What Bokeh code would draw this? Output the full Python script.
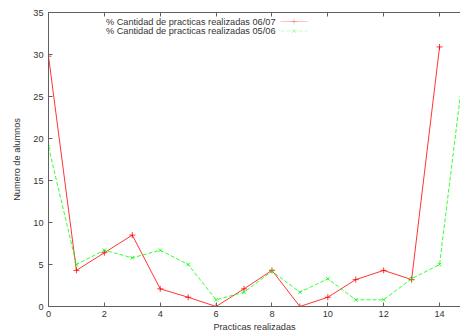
from bokeh.plotting import figure
from bokeh.models import LinearAxis, Label, PolyAnnotation, Range1d, FixedTicker
from bokeh.embed import file_html
from bokeh.resources import INLINE

practicas = list(range(16))
serie_0607 = [29.8, 4.3, 6.4, 8.5, 2.1, 1.1, 0.0, 2.1, 4.3, 0.0, 1.1, 3.2, 4.3, 3.2, 30.9]
serie_0506 = [19.0, 5.0, 6.7, 5.8, 6.7, 5.0, 0.8, 1.7, 4.2, 1.7, 3.3, 0.8, 0.8, 3.3, 5.0, 32.0]
label_0607 = "% Cantidad de practicas realizadas 06/07"
label_0506 = "% Cantidad de practicas realizadas 05/06"
x_ticks = [0, 2, 4, 6, 8, 10, 12, 14]
y_ticks = [0, 5, 10, 15, 20, 25, 30, 35]

FONT = "Liberation Sans"
FS = "9.2px"
AXC = "#606060"
TXT = "#333333"
RED = "#ff0000"
GREEN = "#00ff00"
LW = 0.8

p = figure(width=460, height=336, output_backend="svg", toolbar_location=None,
           x_range=Range1d(0, 14.75), y_range=Range1d(0, 35),
           min_border_left=48, min_border_right=0, min_border_top=12, min_border_bottom=30)
p.xaxis.visible = False
p.yaxis.visible = False
p.grid.visible = False
p.outline_line_color = None
p.background_fill_color = "white"
p.border_fill_color = "white"

def style(ax, labels=True):
    ax.axis_line_color = AXC
    ax.major_tick_line_color = AXC
    ax.major_tick_in = 4
    ax.major_tick_out = 0
    ax.minor_tick_line_color = None
    ax.major_label_text_font = FONT
    ax.major_label_text_font_size = FS if labels else "7px"
    ax.major_label_text_color = TXT if labels else None
    ax.axis_label_text_font = FONT
    ax.axis_label_text_font_size = FS
    ax.axis_label_text_font_style = "normal"
    ax.axis_label_text_color = TXT

xb = LinearAxis(ticker=FixedTicker(ticks=x_ticks), axis_label="Practicas realizadas")
style(xb)
xb.major_label_standoff = 4
xb.axis_label_standoff = 2
p.add_layout(xb, "below")

xt = LinearAxis(ticker=FixedTicker(ticks=x_ticks))
style(xt, labels=False)
xt.major_label_standoff = 0
p.add_layout(xt, "above")

yl = LinearAxis(ticker=FixedTicker(ticks=y_ticks), axis_label="Numero de alumnos")
style(yl)
yl.major_label_standoff = 5
yl.axis_label_standoff = 8
p.add_layout(yl, "left")

p.line(practicas[:len(serie_0607)], serie_0607, line_color=RED, line_width=LW)
p.scatter(practicas[:len(serie_0607)], serie_0607, marker="cross", size=6, line_color=RED, line_width=LW)
p.line(practicas[:len(serie_0506)], serie_0506, line_color=GREEN, line_width=LW, line_dash="4 2")
p.scatter(practicas[:len(serie_0506)], serie_0506, marker="x", size=5, line_color=GREEN, line_width=LW)

# legend (gnuplot style: text left, sample right)
for i, (lab, col, dash, mk) in enumerate([(label_0607, RED, "solid", "+"), (label_0506, GREEN, "4 2", "x")]):
    yy = 285 - i * 9.5
    p.add_layout(Label(x=227, y=yy, x_units="screen", y_units="screen", text=lab,
                       text_align="right", text_baseline="middle", text_font=FONT,
                       text_font_size=FS, text_color=TXT))
    p.add_layout(PolyAnnotation(xs=[232, 259], ys=[yy, yy], xs_units="screen", ys_units="screen",
                                line_color=col, line_dash=dash, line_width=LW, fill_alpha=0))
    if mk == "+":
        p.add_layout(PolyAnnotation(xs=[245.5 - 3, 245.5 + 3], ys=[yy, yy], xs_units="screen", ys_units="screen",
                                    line_color=col, line_width=LW, fill_alpha=0))
        p.add_layout(PolyAnnotation(xs=[245.5, 245.5], ys=[yy - 3, yy + 3], xs_units="screen", ys_units="screen",
                                    line_color=col, line_width=LW, fill_alpha=0))
    else:
        p.add_layout(PolyAnnotation(xs=[243, 248], ys=[yy - 2.5, yy + 2.5], xs_units="screen", ys_units="screen",
                                    line_color=col, line_width=LW, fill_alpha=0))
        p.add_layout(PolyAnnotation(xs=[243, 248], ys=[yy + 2.5, yy - 2.5], xs_units="screen", ys_units="screen",
                                    line_color=col, line_width=LW, fill_alpha=0))

open("out.html", "w").write(file_html(p, INLINE))
